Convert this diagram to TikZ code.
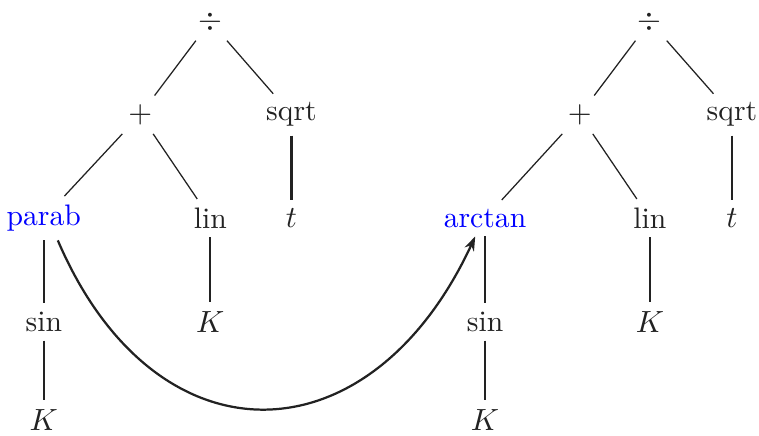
\documentclass[tikz,border=0pt]{standalone}
\usepackage{xcolor}
\usepackage{tikz}
\usepackage{amsmath}
\usetikzlibrary{
  arrows.meta,
  positioning,
  calc
}
\definecolor{exRep}{HTML}{0000FF}
\definecolor{exInk}{HTML}{222222}
\tikzset{
  exnode/.style={text=exInk, font=\fontsize{10.6pt}{12.7pt}\selectfont, inner sep=3pt},
  repnode/.style={exnode, text=exRep},
  branch/.style={exInk, line width=0.45pt},
  stem/.style={exInk, line width=0.75pt},
  rewrite/.style={-{Stealth[length=1.8mm,width=1.3mm]}, exInk, line width=0.8pt}
}

\begin{document}
\begin{tikzpicture}
  \useasboundingbox (0,0) rectangle (9.53,-5.47);
  % tree before the rewrite
  \node[exnode] (ldiv) at (2.64,-0.27) {$\div$};
  \node[exnode] (lplus) at (1.76,-1.44) {$+$};
  \node[exnode] (lsqrt) at (3.66,-1.44) {sqrt};
  \node[repnode] (lparab) at (0.55,-2.74) {parab};
  \node[exnode] (llin) at (2.64,-2.74) {lin};
  \node[exnode] (lt) at (3.66,-2.74) {$t$};
  \node[exnode] (lsin) at (0.55,-4.04) {sin};
  \node[exnode] (lKa) at (2.64,-4.04) {$K$};
  \node[exnode] (lKb) at (0.55,-5.27) {$K$};
  \draw[branch] (ldiv) -- (lplus); \draw[branch] (ldiv) -- (lsqrt);
  \draw[branch] (lplus) -- (lparab); \draw[branch] (lplus) -- (llin);
  \draw[stem] (lsqrt) -- (lt); \draw[stem] (lparab) -- (lsin);
  \draw[stem] (llin) -- (lKa); \draw[stem] (lsin) -- (lKb);
  % tree after the rewrite
  \node[exnode] (rdiv) at (8.16,-0.27) {$\div$};
  \node[exnode] (rplus) at (7.28,-1.44) {$+$};
  \node[exnode] (rsqrt) at (9.19,-1.44) {sqrt};
  \node[repnode] (rarctan) at (6.09,-2.74) {arctan};
  \node[exnode] (rlin) at (8.16,-2.74) {lin};
  \node[exnode] (rt) at (9.19,-2.74) {$t$};
  \node[exnode] (rsin) at (6.09,-4.04) {sin};
  \node[exnode] (rKa) at (8.16,-4.04) {$K$};
  \node[exnode] (rKb) at (6.09,-5.27) {$K$};
  \draw[branch] (rdiv) -- (rplus); \draw[branch] (rdiv) -- (rsqrt);
  \draw[branch] (rplus) -- (rarctan); \draw[branch] (rplus) -- (rlin);
  \draw[stem] (rsqrt) -- (rt); \draw[stem] (rarctan) -- (rsin);
  \draw[stem] (rlin) -- (rKa); \draw[stem] (rsin) -- (rKb);
  % replacement
  \draw[rewrite] ([xshift=5pt]lparab.south) .. controls +(1.22,-2.85) and +(-1.32,-2.85) .. ([xshift=-3.5pt]rarctan.south);
\end{tikzpicture}
\end{document}
